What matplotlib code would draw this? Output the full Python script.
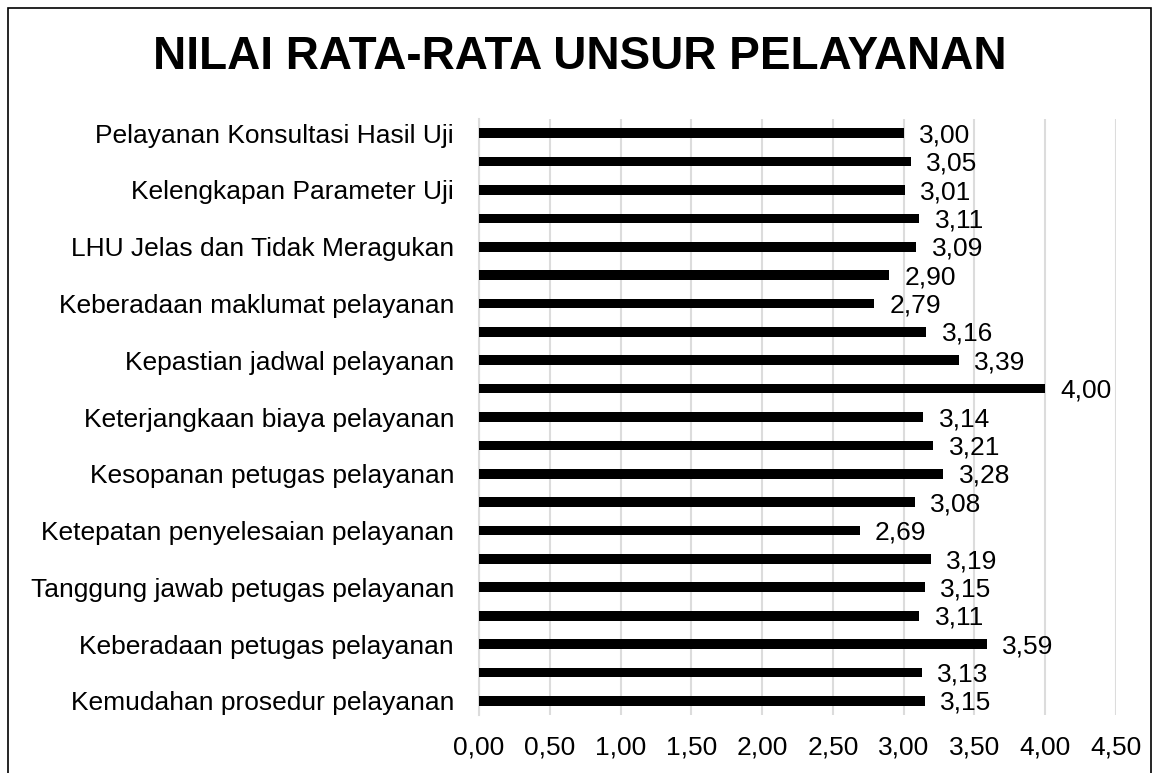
import matplotlib
matplotlib.use("Agg")
import matplotlib.pyplot as plt
from matplotlib.patches import Rectangle

plt.rcParams["font.family"] = ["Liberation Sans", "DejaVu Sans"]

# urutan dari bawah ke atas (seperti sumbu kategori Excel)
labels = [
    "Kemudahan prosedur pelayanan", "",
    "Keberadaan petugas pelayanan", "",
    "Tanggung jawab petugas pelayanan", "",
    "Ketepatan penyelesaian pelayanan", "",
    "Kesopanan petugas pelayanan", "",
    "Keterjangkaan biaya pelayanan", "",
    "Kepastian jadwal pelayanan", "",
    "Keberadaan maklumat pelayanan", "",
    "LHU Jelas dan Tidak Meragukan", "",
    "Kelengkapan Parameter Uji", "",
    "Pelayanan Konsultasi Hasil Uji",
]
values = [3.15, 3.13, 3.59, 3.11, 3.15, 3.19, 2.69, 3.08, 3.28, 3.21, 3.14,
          4.00, 3.39, 3.16, 2.79, 2.90, 3.09, 3.11, 3.01, 3.05, 3.00]
xticks = [0.0, 0.5, 1.0, 1.5, 2.0, 2.5, 3.0, 3.5, 4.0, 4.5]

FS = 19

fig = plt.figure(figsize=(11.6, 7.73), dpi=100)
ax = fig.add_axes([0.413, 0.075, 0.549, 0.771])

ypos = range(len(values))
ax.barh(ypos, values, height=0.34, color="black", zorder=3)
for y, v in zip(ypos, values):
    ax.annotate(f"{v:.2f}".replace(".", ","), (v, y), xytext=(11, -1.5),
                textcoords="offset points", va="center", ha="left",
                fontsize=FS, color="black", zorder=4)

ax.set_xlim(0, 4.5)
ax.set_ylim(-0.5, len(values) - 0.5)
ax.set_xticks(xticks)
ax.set_xticklabels([f"{t:.2f}".replace(".", ",") for t in xticks], fontsize=FS)
ax.set_yticks(list(ypos))
ax.set_yticklabels(labels, fontsize=FS)
ax.tick_params(length=0)
ax.tick_params(axis="y", pad=18)
ax.tick_params(axis="x", pad=15)
ax.grid(axis="x", color="#dcdcdc", linewidth=1.5, zorder=0)
for s in ["top", "right", "bottom"]:
    ax.spines[s].set_visible(False)
ax.spines["left"].set_color("#dcdcdc")
ax.spines["left"].set_linewidth(1.5)

fig.text(0.5, 0.926, "NILAI RATA-RATA UNSUR PELAYANAN", ha="center", va="center",
         fontsize=33, fontweight="bold")

# bingkai luar chart
fig.patches.append(Rectangle((8 / 1160, -0.05), 1143 / 1160, 1.05 - 8 / 773,
                             transform=fig.transFigure, fill=False,
                             edgecolor="black", linewidth=1.2))

fig.savefig("out.png", dpi=100)
